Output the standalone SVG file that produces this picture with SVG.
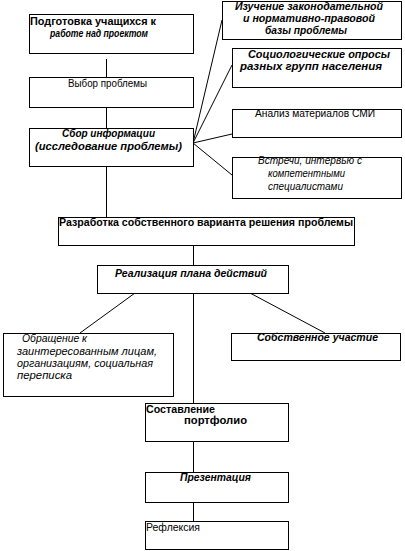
<svg xmlns="http://www.w3.org/2000/svg" width="405" height="551" viewBox="0 0 405 551">
<style>
.box{fill:#fff;stroke:#000;stroke-width:1}
.ln{stroke:#000;stroke-width:1;fill:none}
text{font-family:"Liberation Sans",Arial,sans-serif;font-size:10px;fill:#000}
.b{font-weight:bold}
.bi{font-weight:bold;font-style:italic}
.i{font-style:italic}
</style>
<rect width="405" height="551" fill="#fff"/>
<g id="connectors">
<line class="ln" x1="106.5" y1="59" x2="106.5" y2="77"/>
<line class="ln" x1="106.5" y1="107" x2="106.5" y2="128"/>
<line class="ln" x1="106.5" y1="166" x2="106.5" y2="217"/>
<line class="ln" x1="193.5" y1="245" x2="193.5" y2="265"/>
<line class="ln" x1="193.5" y1="293" x2="193.5" y2="403"/>
<line class="ln" x1="193.5" y1="441" x2="193.5" y2="472"/>
<line class="ln" x1="193.5" y1="502" x2="193.5" y2="521"/>
<line class="ln" x1="193" y1="143" x2="222" y2="20"/>
<line class="ln" x1="193" y1="143" x2="232" y2="65"/>
<line class="ln" x1="193" y1="143" x2="232" y2="134"/>
<line class="ln" x1="193" y1="143" x2="232" y2="175"/>
<line class="ln" x1="135" y1="293" x2="80" y2="333"/>
<line class="ln" x1="250" y1="293" x2="325" y2="333"/>
</g>
<g id="n1"><rect class="box" x="29.5" y="14.5" width="164" height="39"/>
<text class="b" x="30" y="25" textLength="126" lengthAdjust="spacingAndGlyphs">Подготовка учащихся к</text>
<text class="bi" x="50" y="37" textLength="98" lengthAdjust="spacingAndGlyphs">работе над проектом</text></g>
<g id="n2"><rect class="box" x="29.5" y="77.5" width="164" height="30"/>
<text x="68" y="87" textLength="79" lengthAdjust="spacingAndGlyphs">Выбор проблемы</text></g>
<g id="n3"><rect class="box" x="29.5" y="128.5" width="164" height="38"/>
<text class="bi" x="62" y="137" textLength="93" lengthAdjust="spacingAndGlyphs">Сбор информации</text>
<text class="bi" x="35" y="150" textLength="147" lengthAdjust="spacingAndGlyphs">(исследование проблемы)</text></g>
<g id="r1"><rect class="box" x="222.5" y="1.5" width="179" height="38"/>
<text class="bi" x="235" y="10" textLength="148" lengthAdjust="spacingAndGlyphs">Изучение законодательной</text>
<text class="bi" x="243" y="22" textLength="132" lengthAdjust="spacingAndGlyphs">и нормативно-правовой</text>
<text class="bi" x="265" y="34" textLength="82" lengthAdjust="spacingAndGlyphs">базы проблемы</text></g>
<g id="r2"><rect class="box" x="232.5" y="48.5" width="169" height="39"/>
<text class="bi" x="248" y="58" textLength="142" lengthAdjust="spacingAndGlyphs">Социологические опросы</text>
<text class="bi" x="240" y="70" textLength="142" lengthAdjust="spacingAndGlyphs">разных групп населения</text></g>
<g id="r3"><rect class="box" x="232.5" y="109.5" width="169" height="28"/>
<text x="255" y="117" textLength="120" lengthAdjust="spacingAndGlyphs">Анализ материалов СМИ</text></g>
<g id="r4"><rect class="box" x="232.5" y="157.5" width="169" height="41"/>
<text class="i" x="258" y="164" textLength="104" lengthAdjust="spacingAndGlyphs">Встречи, интервью с</text>
<text class="i" x="268" y="177" textLength="77" lengthAdjust="spacingAndGlyphs">компетентными</text>
<text class="i" x="268" y="190" textLength="75" lengthAdjust="spacingAndGlyphs">специалистами</text></g>
<g id="n4"><rect class="box" x="58.5" y="217.5" width="296" height="28"/>
<text class="b" x="59" y="226" textLength="294" lengthAdjust="spacingAndGlyphs">Разработка собственного варианта решения проблемы</text></g>
<g id="n5"><rect class="box" x="97.5" y="265.5" width="191" height="28"/>
<text class="bi" x="115" y="277" textLength="152" lengthAdjust="spacingAndGlyphs">Реализация плана действий</text></g>
<g id="l1"><rect class="box" x="3.5" y="333.5" width="170" height="63"/>
<text class="i" x="22" y="342" textLength="65" lengthAdjust="spacingAndGlyphs">Обращение к</text>
<text class="i" x="17" y="354.5" textLength="140" lengthAdjust="spacingAndGlyphs">заинтересованным лицам,</text>
<text class="i" x="17" y="367" textLength="136" lengthAdjust="spacingAndGlyphs">организациям, социальная</text>
<text class="i" x="17" y="379" textLength="55" lengthAdjust="spacingAndGlyphs">переписка</text></g>
<g id="rr1"><rect class="box" x="231.5" y="333.5" width="169" height="27"/>
<text class="bi" x="257" y="341" textLength="121" lengthAdjust="spacingAndGlyphs">Собственное участие</text></g>
<g id="n6"><rect class="box" x="145.5" y="403.5" width="143" height="38"/>
<text class="b" x="146" y="413" textLength="69" lengthAdjust="spacingAndGlyphs">Составление</text>
<text class="b" x="184" y="424" textLength="63" lengthAdjust="spacingAndGlyphs">портфолио</text></g>
<g id="n7"><rect class="box" x="145.5" y="472.5" width="143" height="30"/>
<text class="bi" x="180" y="481" textLength="71" lengthAdjust="spacingAndGlyphs">Презентация</text></g>
<g id="n8"><rect class="box" x="145.5" y="521.5" width="143" height="28"/>
<text x="146" y="531" textLength="54" lengthAdjust="spacingAndGlyphs">Рефлексия</text></g>
</svg>
